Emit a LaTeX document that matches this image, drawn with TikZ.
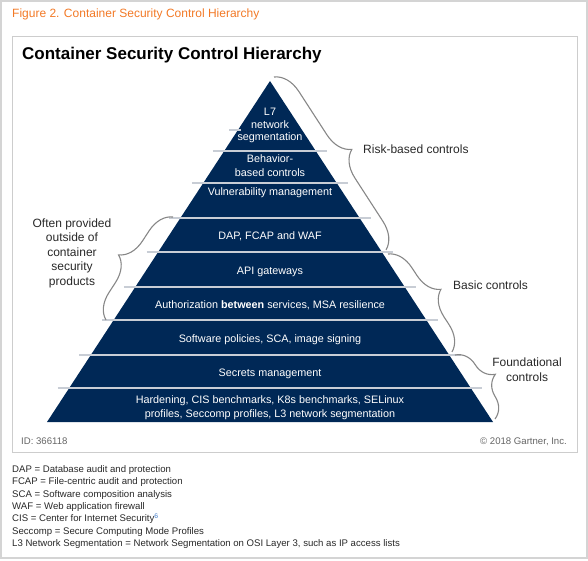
\documentclass[tikz,border=0pt]{standalone}
\usepackage{fontspec}
\setmainfont{Liberation Sans}
\usetikzlibrary{decorations.pathreplacing}
\definecolor{navy}{RGB}{0,40,86}
\definecolor{gorange}{RGB}{242,121,38}
\definecolor{bandline}{RGB}{200,205,213}
\definecolor{bracegray}{RGB}{135,135,135}
\definecolor{framegray}{RGB}{212,212,212}
\definecolor{boxgray}{RGB}{205,205,205}
\definecolor{txtgray}{RGB}{40,40,40}
\definecolor{idgray}{RGB}{100,100,100}
\definecolor{linkblue}{RGB}{60,120,200}
\tikzset{
  ptext/.style={anchor=base, text=white, inner sep=0pt, font=\fontsize{10.8}{13}\selectfont},
  lbl/.style={inner sep=0pt, text=txtgray, font=\fontsize{12}{14}\selectfont},
  note/.style={anchor=base west, inner sep=0pt, text=txtgray, font=\fontsize{9.6}{11}\selectfont},
  bracket/.style={draw=bracegray, line width=1.1pt, decorate, decoration={brace, amplitude=#1}},
  bandsep/.style={draw=bandline, line width=1.3pt}
}
\begin{document}
\begin{tikzpicture}[x=1pt,y=-1pt]
\useasboundingbox (0,0) rectangle (588,561);
% frames
\draw[framegray, line width=1.6pt] (1.2,0.8) rectangle (586.8,558);
\draw[boxgray, line width=0.9pt] (12,36) rectangle (577,452);
% caption and title
\node[anchor=base west, inner sep=0pt, text=gorange, font=\fontsize{12}{14}\selectfont] (caption) at (12,17.5) {Figure 2. Container Security Control Hierarchy};
\node[anchor=base west, inner sep=0pt, font=\fontsize{17}{20}\bfseries\selectfont] (title) at (22,60) {Container Security Control Hierarchy};
% pyramid
\coordinate (apex) at (270,81);
\coordinate (bl) at (47,422);
\coordinate (br) at (493,422);
\fill[navy] (apex) -- (br) -- (bl) -- cycle;
\foreach \yy in {151,183,218,252,287,320,355,388} {
  \pgfmathsetmacro\hw{0.65396*(\yy-81)+11.5}
  \draw[bandsep] ({270-\hw},\yy) -- ({270+\hw},\yy);
}
\draw[bandsep] (229,130) -- (241,130);
% pyramid texts
\node[ptext] (t1a) at (270,116) {L7};
\node[ptext] (t1b) at (270,128.5) {network};
\node[ptext] (t1c) at (270,141) {segmentation};
\node[ptext] (t2a) at (270,163) {Behavior-};
\node[ptext] (t2b) at (270,177) {based controls};
\node[ptext] (t3) at (270,196) {Vulnerability management};
\node[ptext] (t4) at (270,240) {DAP, FCAP and WAF};
\node[ptext] (t5) at (270,274) {API gateways};
\node[ptext] (t6) at (270,308) {Authorization \textbf{between} services, MSA resilience};
\node[ptext] (t7) at (270,342) {Software policies, SCA, image signing};
\node[ptext] (t8) at (270,376) {Secrets management};
\node[ptext] (t9a) at (270,403) {Hardening, CIS benchmarks, K8s benchmarks, SELinux};
\node[ptext] (t9b) at (270,417) {profiles, Seccomp profiles, L3 network segmentation};
% braces
\coordinate (rs) at (274,77);  \coordinate (re) at (386,250);
\coordinate (bs) at (388,254); \coordinate (be) at (452,352);
\coordinate (fs) at (455,355); \coordinate (fe) at (495,419);
\coordinate (ls) at (106,320); \coordinate (le) at (173,217);
\draw[bracket=26pt] (rs) -- (re);
\draw[bracket=25pt] (bs) -- (be);
\draw[bracket=24pt] (fs) -- (fe);
\draw[bracket=25pt] (ls) -- (le);
% brace labels
\node[lbl, anchor=base west] (risk) at (363,153.3) {Risk-based controls};
\node[lbl, anchor=base west] (basic) at (453,289.3) {Basic controls};
\node[lbl, anchor=base] (found1) at (527,366.3) {Foundational};
\node[lbl, anchor=base] (found2) at (527,381.3) {controls};
\node[lbl, anchor=base] (o1) at (72,227.3) {Often provided};
\node[lbl, anchor=base] (o2) at (72,241.8) {outside of};
\node[lbl, anchor=base] (o3) at (72,256.3) {container};
\node[lbl, anchor=base] (o4) at (72,270.8) {security};
\node[lbl, anchor=base] (o5) at (72,285.3) {products};
% box footer
\node[anchor=base west, inner sep=0pt, text=idgray, font=\fontsize{9.6}{11}\selectfont] (id) at (21,444.5) {ID: 366118};
\node[anchor=base east, inner sep=0pt, text=idgray, font=\fontsize{9.6}{11}\selectfont] (copy) at (567,444.5) {© 2018 Gartner, Inc.};
% notes
\node[note] (n1) at (12,472.5) {DAP = Database audit and protection};
\node[note] (n2) at (12,484.8) {FCAP = File-centric audit and protection};
\node[note] (n3) at (12,497.1) {SCA = Software composition analysis};
\node[note] (n4) at (12,509.4) {WAF = Web application firewall};
\node[note] (n5) at (12,521.7) {CIS = Center for Internet Security\textsuperscript{\textcolor{linkblue}{6}}};
\node[note] (n6) at (12,534) {Seccomp = Secure Computing Mode Profiles};
\node[note] (n7) at (12,546.3) {L3 Network Segmentation = Network Segmentation on OSI Layer 3, such as IP access lists};
\end{tikzpicture}
\end{document}
